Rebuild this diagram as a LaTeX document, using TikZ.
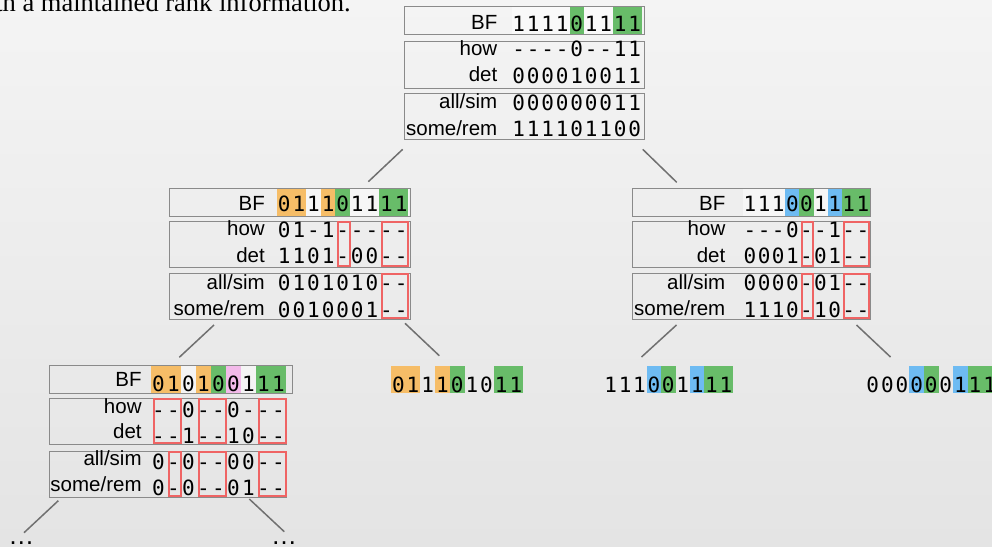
\documentclass[tikz,border=0pt]{standalone}
\usepackage{fontspec}
\newfontfamily\labfont{Liberation Sans}
\newfontfamily\bitfont{DejaVu Sans Mono}
\newfontfamily\capfont{Liberation Serif}

\definecolor{bgtop}{HTML}{F4F4F4}
\definecolor{bgbot}{HTML}{E4E4E4}
\definecolor{framegray}{HTML}{8A8A8A}
\definecolor{edgegray}{HTML}{707070}
\definecolor{hlorange}{HTML}{F6BD67}
\definecolor{hlgreen}{HTML}{68BC69}
\definecolor{hlblue}{HTML}{6EBBF2}
\definecolor{hlpink}{HTML}{F3BAEA}
\definecolor{markred}{HTML}{EF6464}

\tikzset{
  boxframe/.style={draw=framegray, line width=1pt, inner sep=0pt, outer sep=0pt, anchor=north west},
  lab/.style={font=\labfont\fontsize{20.5}{24}\selectfont, inner sep=0pt, anchor=base east},
  bit/.style={font=\bitfont\fontsize{21}{24}\selectfont, inner sep=0pt, anchor=base},
  dots/.style={font=\labfont\fontsize{26}{30}\selectfont, inner sep=0pt, anchor=base},
  redmark/.style={draw=markred, line width=2pt},
  edge/.style={draw=edgegray, line width=1.5pt},
  bitsbg/.style={fill=white, fill opacity=0.5},
}

% one row of characters, one per cell: name, first cell x, baseline, cell width, list
\newcommand\bitrow[5]{%
  \foreach \ch [count=\i] in {#5} {\node[bit] (#1-\i) at ({#2+(\i-0.5)*#4},#3) {\ch};}}
% coloured cell: colour, first cell x, cell index, cell width, top, bottom
\newcommand\hl[6]{\fill[#1] ({#2+(#3-1)*#4},#5) rectangle ({#2+#3*#4},#6);}
% red marker round cells: first cell x, from, to, cell width, top, bottom
\newcommand\redrect[6]{\draw[redmark] ({#1+(#2-1)*#4+2.5},{#5+1.2}) rectangle ({#1+#3*#4-0.5},{#6-0.8});}

\begin{document}
\begin{tikzpicture}[x=1pt,y=-1pt]
\useasboundingbox (0,0) rectangle (992,546);
\clip (0,0) rectangle (992,546);
\shade[top color=bgtop, bottom color=bgbot] (0,0) rectangle (992,546);

% caption line above the tree
\node[font=\capfont\fontsize{26.5}{30}\selectfont, inner sep=0pt, anchor=base east] (caption) at (351,11.3) {with a maintained rank information.};

% ---------- root ----------
\fill[bitsbg] (511.5,6.7) rectangle (642,34.3);
\foreach \k in {5,8,9} {\hl{hlgreen}{511.5}{\k}{14.5}{6.7}{34.3}}
\node[boxframe, minimum width=240, minimum height=27.6] (T-bf) at (404,6.7) {};
\node[boxframe, minimum width=240, minimum height=46.6] (T-how) at (404,41.7) {};
\node[boxframe, minimum width=240, minimum height=46] (T-all) at (404,93.3) {};
\node[lab] (T-l1) at (497.5,29.3) {BF};
\node[lab] (T-l2) at (497.5,55) {how};
\node[lab] (T-l3) at (497.5,81.7) {det};
\node[lab] (T-l4) at (497.5,108.3) {all/sim};
\node[lab] (T-l5) at (497.5,135) {some/rem};
\bitrow{T-bf}{511.5}{31}{14.5}{1,1,1,1,0,1,1,1,1}
\bitrow{T-how}{511.5}{56.7}{14.5}{-,-,-,-,0,-,-,1,1}
\bitrow{T-det}{511.5}{83.4}{14.5}{0,0,0,0,1,0,0,1,1}
\bitrow{T-all}{511.5}{110}{14.5}{0,0,0,0,0,0,0,1,1}
\bitrow{T-some}{511.5}{136.7}{14.5}{1,1,1,1,0,1,1,0,0}

% ---------- left child ----------
\fill[bitsbg] (277,188) rectangle (409.4,216);
\foreach \k in {1,2,4} {\hl{hlorange}{277}{\k}{14.6}{188}{216}}
\foreach \k in {5,8,9} {\hl{hlgreen}{277}{\k}{14.6}{188}{216}}
\node[boxframe, minimum width=241, minimum height=28] (L-bf) at (169,188) {};
\node[boxframe, minimum width=241, minimum height=46] (L-how) at (169,221) {};
\node[boxframe, minimum width=241, minimum height=46] (L-all) at (169,273) {};
\node[lab] (L-l1) at (265,210) {BF};
\node[lab] (L-l2) at (265,235.5) {how};
\node[lab] (L-l3) at (265,262) {det};
\node[lab] (L-l4) at (265,289) {all/sim};
\node[lab] (L-l5) at (265,315.3) {some/rem};
\bitrow{L-bf}{277}{211.7}{14.6}{0,1,1,1,0,1,1,1,1}
\bitrow{L-how}{277}{237.2}{14.6}{0,1,-,1,-,-,-,-,-}
\bitrow{L-det}{277}{263.7}{14.6}{1,1,0,1,-,0,0,-,-}
\bitrow{L-all}{277}{290.7}{14.6}{0,1,0,1,0,1,0,-,-}
\bitrow{L-some}{277}{317}{14.6}{0,0,1,0,0,0,1,-,-}
\redrect{277}{5}{5}{14.6}{221}{267}
\redrect{277}{8}{9}{14.6}{221}{267}
\redrect{277}{8}{9}{14.6}{273}{319}

% ---------- right child ----------
\fill[bitsbg] (743,188) rectangle (869.9,216);
\foreach \k in {4,7} {\hl{hlblue}{743}{\k}{14.1}{188}{216}}
\foreach \k in {5,8,9} {\hl{hlgreen}{743}{\k}{14.1}{188}{216}}
\node[boxframe, minimum width=238, minimum height=28] (R-bf) at (632.5,188) {};
\node[boxframe, minimum width=238, minimum height=46] (R-how) at (632.5,221) {};
\node[boxframe, minimum width=238, minimum height=46] (R-all) at (632.5,273) {};
\node[lab] (R-l1) at (725.5,210) {BF};
\node[lab] (R-l2) at (725.5,235.5) {how};
\node[lab] (R-l3) at (725.5,262) {det};
\node[lab] (R-l4) at (725.5,289) {all/sim};
\node[lab] (R-l5) at (725.5,315.3) {some/rem};
\bitrow{R-bf}{743}{211.7}{14.1}{1,1,1,0,0,1,1,1,1}
\bitrow{R-how}{743}{237.2}{14.1}{-,-,-,0,-,-,1,-,-}
\bitrow{R-det}{743}{263.7}{14.1}{0,0,0,1,-,0,1,-,-}
\bitrow{R-all}{743}{290.7}{14.1}{0,0,0,0,-,0,1,-,-}
\bitrow{R-some}{743}{317}{14.1}{1,1,1,0,-,1,0,-,-}
\redrect{743}{5}{5}{14.1}{221}{267}
\redrect{743}{8}{9}{14.1}{221}{267}
\redrect{743}{5}{5}{14.1}{273}{319}
\redrect{743}{8}{9}{14.1}{273}{319}

% ---------- grandchild (left) ----------
\fill[bitsbg] (151,366) rectangle (286,393);
\foreach \k in {1,2,4} {\hl{hlorange}{151}{\k}{15}{366}{393}}
\foreach \k in {5,8,9} {\hl{hlgreen}{151}{\k}{15}{366}{393}}
\hl{hlpink}{151}{6}{15}{366}{393}
\node[boxframe, minimum width=242.7, minimum height=27.3] (B-bf) at (49.3,365.7) {};
\node[boxframe, minimum width=236.7, minimum height=46] (B-how) at (49.3,398) {};
\node[boxframe, minimum width=236.7, minimum height=46] (B-all) at (49.3,451) {};
\node[lab] (B-l1) at (141.8,386.7) {BF};
\node[lab] (B-l2) at (141.8,413.3) {how};
\node[lab] (B-l3) at (141.8,438.3) {det};
\node[lab] (B-l4) at (141.8,465) {all/sim};
\node[lab] (B-l5) at (141.8,491.7) {some/rem};
\bitrow{B-bf}{151}{391.2}{15}{0,1,0,1,0,0,1,1,1}
\bitrow{B-how}{151}{417.8}{15}{-,-,0,-,-,0,-,-,-}
\bitrow{B-det}{151}{443}{15}{-,-,1,-,-,1,0,-,-}
\bitrow{B-all}{151}{469.5}{15}{0,-,0,-,-,0,0,-,-}
\bitrow{B-some}{151}{495.7}{15}{0,-,0,-,-,0,1,-,-}
\redrect{151}{1}{2}{15}{398}{444}
\redrect{151}{4}{5}{15}{398}{444}
\redrect{151}{8}{9}{15}{398}{444}
\redrect{151}{2}{2}{15}{451}{497}
\redrect{151}{4}{5}{15}{451}{497}
\redrect{151}{8}{9}{15}{451}{497}

% ---------- leaves ----------
\foreach \k in {1,2,4} {\hl{hlorange}{391}{\k}{14.7}{365.5}{393}}
\foreach \k in {5,8,9} {\hl{hlgreen}{391}{\k}{14.7}{365.5}{393}}
\bitrow{LA}{391}{392}{14.7}{0,1,1,1,0,1,0,1,1}

\foreach \k in {4,7} {\hl{hlblue}{603.5}{\k}{14.4}{365.5}{393}}
\foreach \k in {5,8,9} {\hl{hlgreen}{603.5}{\k}{14.4}{365.5}{393}}
\bitrow{LB}{603.5}{392}{14.4}{1,1,1,0,0,1,1,1,1}

\foreach \k in {4,7} {\hl{hlblue}{865.5}{\k}{14.6}{365.5}{393}}
\foreach \k in {5,8,9} {\hl{hlgreen}{865.5}{\k}{14.6}{365.5}{393}}
\bitrow{LC}{865.5}{392}{14.6}{0,0,0,0,0,0,1,1,1}

% continuation marks
\node[dots] (dotsL) at (21.5,544) {…};
\node[dots] (dotsR) at (284,544) {…};

% ---------- tree edges ----------
\coordinate (eTLa) at (402.7,149.3);  \coordinate (eTLb) at (368.3,181.7);
\coordinate (eTRa) at (642.7,149.3);  \coordinate (eTRb) at (676.7,182.3);
\coordinate (eLBa) at (214,325);      \coordinate (eLBb) at (179.3,357.3);
\coordinate (eLAa) at (405,323.3);    \coordinate (eLAb) at (439.3,355.7);
\coordinate (eRBa) at (676.5,325);    \coordinate (eRBb) at (641.5,357);
\coordinate (eRCa) at (856.5,325);    \coordinate (eRCb) at (890.5,357);
\coordinate (eBLa) at (58.3,500.7);   \coordinate (eBLb) at (24,532.7);
\coordinate (eBRa) at (249.3,499);    \coordinate (eBRb) at (284.3,531.7);
\foreach \e in {TL,TR,LB,LA,RB,RC,BL,BR} {\draw[edge] (e\e a) -- (e\e b);}
\end{tikzpicture}
\end{document}
